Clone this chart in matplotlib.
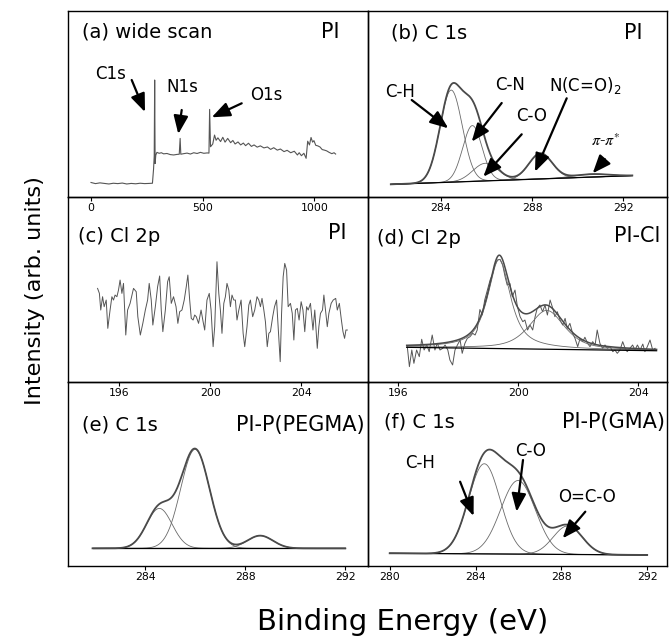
import numpy as np
import matplotlib
matplotlib.use('Agg')
import matplotlib.pyplot as plt

plt.rcParams['font.family'] = ['DejaVu Sans']

# ---------------- data ----------------
# (a) wide scan, PI
wide_be = [0, 20, 40, 60, 80, 100, 120, 140, 160, 180, 200, 220, 240, 260, 275, 280, 283, 285, 287, 290,
           295, 305, 315, 325, 340, 355, 370, 385, 395, 399, 402, 415, 430, 445, 460, 475, 490, 505, 520, 528,
           531, 535, 545, 553, 560, 568, 580, 590, 600, 612, 625, 635, 645, 658, 670, 682, 692, 705, 718, 730,
           744, 758, 774, 790, 804, 818, 834, 848, 864, 878, 894, 910, 924, 932, 942, 953, 963, 970, 978, 985,
           992, 998, 1006, 1015, 1025, 1035, 1045, 1055, 1066, 1078, 1088, 1095]
wide_int = [7.8, 7.2, 7.6, 7.3, 7.0, 7.4, 7.2, 7.5, 7.0, 7.3, 7.1, 7.4, 7.2, 7.3, 7.4, 15.0, 22.0, 62.9, 18.0, 22.5,
            24.0, 23.5, 23.8, 23.2, 23.4, 22.8, 22.6, 22.9, 23.0, 31.5, 23.0, 23.3, 23.6, 23.1, 23.8, 23.4, 24.0, 23.5, 23.7, 23.6,
            47.1, 27.0, 28.5, 33.3, 30.5, 31.8, 29.8, 32.1, 29.5, 31.5, 29.2, 30.4, 28.5, 29.6, 28.0, 29.0, 27.6, 28.9, 27.2, 28.0,
            26.8, 27.5, 26.4, 26.9, 25.6, 26.5, 25.2, 25.8, 24.4, 25.1, 23.8, 24.6, 22.6, 23.8, 22.2, 23.5, 20.8, 30.0, 28.0, 32.0,
            29.5, 30.3, 27.8, 27.5, 26.9, 25.5, 25.2, 24.8, 24.0, 23.3, 23.8, 23.1]

# (b) C 1s, PI : fitted components (centre eV, height, FWHM eV)
b_centers = [284.45, 285.38, 285.95, 288.37, 290.6]
b_heights = [49.5, 30.0, 9.5, 13.8, 1.6]
b_fwhm = [1.15, 1.0, 1.3, 1.2, 1.8]
b_range = [281.8, 292.4]
b_bg = [6.8, 11.5]

# (c) Cl 2p, PI : raw spectrum
c_be = [195.05, 195.13, 195.19, 195.27, 195.34, 195.43, 195.50, 195.60, 195.68, 195.75, 195.82, 195.90, 195.97,
        196.04, 196.12, 196.19, 196.29, 196.37, 196.48, 196.63, 196.75, 196.82, 196.93, 197.04, 197.15, 197.25,
        197.32, 197.41, 197.48, 197.59, 197.69, 197.78, 197.85, 197.92, 198.03, 198.13, 198.20, 198.29, 198.39,
        198.50, 198.58, 198.66, 198.76, 198.86, 198.95, 199.02, 199.10, 199.17, 199.25, 199.32, 199.39, 199.49,
        199.60, 199.69, 199.76, 199.86, 199.96, 200.04, 200.13, 200.20, 200.30, 200.38, 200.45, 200.52, 200.60,
        200.67, 200.74, 200.82, 200.89, 200.96, 201.04, 201.11, 201.18, 201.26, 201.36, 201.45, 201.52, 201.62,
        201.70, 201.77, 201.87, 201.96, 202.06, 202.14, 202.21, 202.28, 202.36, 202.43, 202.51, 202.58, 202.65,
        202.75, 202.83, 202.92, 202.99, 203.08, 203.14, 203.21, 203.28, 203.36, 203.43, 203.53, 203.61, 203.68,
        203.75, 203.83, 203.91, 204.00, 204.08, 204.16, 204.24, 204.31, 204.41, 204.52, 204.60, 204.71, 204.78,
        204.85, 204.94, 205.00, 205.07, 205.15, 205.22, 205.32, 205.41, 205.52, 205.59, 205.68, 205.77, 205.84,
        205.91, 205.97, 206.03]
c_int = [50.6, 47.9, 38.9, 46.1, 40.7, 44.3, 29.0, 38.9, 46.1, 44.3, 47.0, 46.1, 49.7,
         55.1, 47.9, 53.3, 25.4, 38.9, 42.5, 50.6, 48.8, 35.3, 25.4, 31.7, 38.9, 44.3,
         53.3, 44.3, 30.8, 40.7, 51.5, 57.3, 38.9, 27.2, 38.9, 54.2, 56.9, 42.5, 46.1,
         40.7, 31.7, 38.0, 38.9, 44.3, 51.5, 57.8, 44.3, 34.4, 33.5, 36.2, 35.3, 31.7,
         38.9, 32.6, 28.1, 44.3, 47.9, 38.9, 19.1, 29.9, 65.0, 47.9, 38.9, 26.3, 42.5,
         46.1, 53.3, 49.7, 40.7, 47.0, 44.3, 44.3, 33.5, 38.9, 44.3, 26.3, 19.1, 29.9,
         41.6, 44.3, 35.3, 38.9, 46.1, 44.3, 40.7, 45.2, 38.9, 32.6, 19.1, 26.3, 27.2,
         35.3, 40.7, 44.3, 29.9, 11.0, 37.1, 56.9, 64.1, 60.5, 40.7, 42.5, 37.1, 22.7,
         38.9, 39.8, 33.5, 43.4, 38.9, 27.2, 40.7, 38.9, 42.5, 28.1, 38.9, 18.2, 29.9,
         37.1, 38.9, 47.0, 38.9, 29.9, 37.1, 42.5, 44.3, 45.2, 38.9, 42.5, 33.5, 27.2,
         23.6, 28.1, 28.1]

# (d) Cl 2p, PI-Cl : raw spectrum and fitted doublet
d_be = [196.30, 196.37, 196.45, 196.52, 196.61, 196.70, 196.78, 196.86, 196.95, 197.03, 197.13, 197.22, 197.30,
        197.39, 197.48, 197.56, 197.65, 197.72, 197.81, 197.89, 197.97, 198.06, 198.13, 198.22, 198.30, 198.39,
        198.48, 198.56, 198.63, 198.72, 198.80, 198.88, 198.97, 199.06, 199.15, 199.22, 199.30, 199.39, 199.48,
        199.56, 199.63, 199.72, 199.80, 199.89, 199.97, 200.06, 200.15, 200.22, 200.31, 200.39, 200.48, 200.56,
        200.63, 200.72, 200.81, 200.89, 200.97, 201.06, 201.15, 201.22, 201.30, 201.39, 201.48, 201.56, 201.63,
        201.72, 201.81, 201.89, 201.98, 202.06, 202.15, 202.22, 202.31, 202.39, 202.48, 202.56, 202.63, 202.72,
        202.81, 202.89, 202.97, 203.06, 203.15, 203.22, 203.30, 203.39, 203.48, 203.56, 203.63, 203.72, 203.81,
        203.89, 203.97, 204.06, 204.15, 204.22, 204.30, 204.39, 204.48, 204.56]
d_int = [19.1, 8.3, 17.3, 10.1, 17.3, 13.7, 23.1, 17.3, 20.0, 16.4, 25.4, 17.3, 20.9,
         17.3, 18.2, 20.0, 17.3, 11.9, 9.2, 17.3, 20.0, 22.7, 15.5, 20.9, 23.6, 24.5,
         26.3, 25.4, 28.1, 39.2, 36.2, 44.3, 49.7, 55.1, 58.7, 63.2, 65.9, 66.3, 63.2,
         56.9, 52.4, 53.3, 46.1, 49.7, 40.7, 35.3, 32.6, 33.5, 28.1, 30.8, 28.1, 35.3,
         39.8, 41.6, 38.0, 41.6, 36.2, 44.3, 39.8, 35.3, 38.0, 33.5, 30.8, 34.4, 29.0,
         31.7, 26.3, 23.6, 19.1, 23.6, 21.8, 24.2, 20.9, 19.1, 21.8, 20.0, 28.1, 20.9,
         18.2, 20.0, 18.2, 19.1, 16.4, 17.3, 15.5, 17.3, 21.8, 18.2, 16.4, 18.2, 20.0,
         17.3, 20.0, 17.3, 20.5, 16.4, 19.1, 22.7, 17.3, 18.2]
d_centers = [199.36, 200.95]
d_heights = [48.2, 21.0]
d_fwhm = [0.9, 1.4]
d_lorentz = [0.8, 0.6]
d_range = [196.28, 204.61]
d_bg = [18.75, 16.9]

# (e) C 1s, PI-P(PEGMA)
e_centers = [284.57, 286.0, 288.6]
e_heights = [21.7, 53.8, 6.9]
e_fwhm = [1.2, 1.35, 1.2]
e_range = [281.9, 292.0]
e_bg = [9.6, 9.6]

# (f) C 1s, PI-P(GMA)
f_centers = [284.41, 285.98, 288.3]
f_heights = [49.0, 40.0, 15.5]
f_fwhm = [1.73, 1.9, 1.6]
f_range = [280.0, 292.0]
f_bg = [6.9, 6.0]

# ---------------- helpers ----------------
def gauss(x, c, h, w):
    s = w / 2.3548
    return h * np.exp(-(x - c) ** 2 / (2 * s * s))

def pvoigt(x, c, h, w, eta):
    lor = 1.0 / (1.0 + ((x - c) / (w / 2)) ** 2)
    return h * (eta * lor + (1 - eta) * np.exp(-(x - c) ** 2 / (2 * (w / 2.3548) ** 2)))

W, H = 669, 636
fig = plt.figure(figsize=(W / 100, H / 100), dpi=100)

colL, colR = 68, 368
right_edge = 666.5
rows = [(11, 197), (197, 382), (382, 566)]

def make_ax(col, row, xlim, ticks):
    x0 = colL if col == 0 else colR
    x1 = colR if col == 0 else right_edge
    t, b = rows[row]
    ax = fig.add_axes([x0 / W, 1 - b / H, (x1 - x0) / W, (b - t) / H])
    ax.set_facecolor('none')
    ax.set_xlim(*xlim)
    ax.set_ylim(0, 100)
    ax.set_xticks(ticks)
    ax.set_yticks([])
    ax.tick_params(axis='x', direction='out', length=3, width=0.8, labelsize=7.8, pad=1.5)
    for sp in ax.spines.values():
        sp.set_linewidth(1.0)
        sp.set_color('black')
    return ax

LBL = 14
RLBL = 15

def labels(ax, left, right, lx, ly, rx, ry):
    ax.text(lx, ly, left, transform=ax.transAxes, ha='left', va='center', fontsize=LBL)
    ax.text(rx, ry, right, transform=ax.transAxes, ha='right', va='center', fontsize=RLBL)

def arrow(ax, start, tip):
    ax.annotate('', xy=(tip[0], H - tip[1]), xytext=(start[0], H - start[1]),
                xycoords='figure pixels', textcoords='figure pixels',
                arrowprops=dict(arrowstyle='-|>,head_length=1.0,head_width=0.4', mutation_scale=11,
                                lw=1.6, color='black', shrinkA=0, shrinkB=0))

def note(ax, txt, pos, size=12, **kw):
    fig.text(pos[0] / W, 1 - pos[1] / H, txt, ha='center', va='center', fontsize=size, **kw)

comp_col = '#6a6a6a'
env_col = '#4a4a4a'

def fitted(ax, rng, bg, centers, heights, fwhm, shape=None):
    x = np.linspace(rng[0], rng[1], 600)
    base = np.interp(x, rng, bg)
    total = base.copy()
    for i, (c, h, w) in enumerate(zip(centers, heights, fwhm)):
        if shape is None:
            comp = gauss(x, c, h, w)
        else:
            comp = pvoigt(x, c, h, w, shape[i])
        total += comp
        ax.plot(x, base + comp, color=comp_col, lw=0.6)
    ax.plot(rng, bg, color='black', lw=0.9)
    return x, total

# (a)
ax = make_ax(0, 0, (-103, 1240), [0, 500, 1000])
ax.plot(wide_be, wide_int, color='#555555', lw=0.8)
labels(ax, '(a) wide scan', 'PI', 0.046, 0.889, 0.906, 0.889)
note(ax, 'C1s', (111, 74))
arrow(ax, (131.7, 80), (145, 112))
note(ax, 'N1s', (182, 87.5))
arrow(ax, (181.7, 110), (178.3, 134))
note(ax, 'O1s', (266.5, 95))
arrow(ax, (241.7, 103.3), (211.7, 117.3))

# (b)
ax = make_ax(1, 0, (280.8, 293.9), [284, 288, 292])
x, tot = fitted(ax, b_range, b_bg, b_centers, b_heights, b_fwhm)
ax.plot(x, tot, color=env_col, lw=1.3)
labels(ax, '(b) C 1s', 'PI', 0.076, 0.884, 0.92, 0.884)
note(ax, 'C-H', (400, 91.7))
arrow(ax, (411.7, 100), (448.3, 128.3))
note(ax, 'C-N', (510, 85))
arrow(ax, (501.7, 103), (471.7, 141.7))
note(ax, 'C-O', (531.7, 115.8))
arrow(ax, (521.7, 134.3), (483.3, 176.7))
note(ax, 'N(C=O)$_2$', (585, 86))
arrow(ax, (566.7, 98.3), (535, 171.7))
fig.text(606 / W, 1 - 141 / H, r'$\pi$-$\pi^{*}$', ha='center', va='center', fontsize=11.5,
         math_fontfamily='stix', family='DejaVu Serif')
arrow(ax, (605, 159.3), (592.7, 173.3))

# (c)
ax = make_ax(0, 1, (193.75, 206.94), [196, 200, 204])
ax.plot(c_be, c_int, color='#555555', lw=0.7)
labels(ax, '(c) Cl 2p', 'PI', 0.034, 0.784, 0.93, 0.805)

# (d)
ax = make_ax(1, 1, (194.99, 204.94), [196, 200, 204])
ax.plot(d_be, d_int, color='#555555', lw=0.7)
x, tot = fitted(ax, d_range, d_bg, d_centers, d_heights, d_fwhm, d_lorentz)
ax.plot(x, tot, color=env_col, lw=1.1)
labels(ax, '(d) Cl 2p', 'PI-Cl', 0.029, 0.773, 0.978, 0.79)

# (e)
ax = make_ax(0, 2, (280.92, 292.91), [284, 288, 292])
x, tot = fitted(ax, e_range, e_bg, e_centers, e_heights, e_fwhm)
ax.plot(x, tot, color=env_col, lw=1.3)
labels(ax, '(e) C 1s', 'PI-P(PEGMA)', 0.046, 0.768, 0.988, 0.768)

# (f)
ax = make_ax(1, 2, (278.99, 292.9), [280, 284, 288, 292])
x, tot = fitted(ax, f_range, f_bg, f_centers, f_heights, f_fwhm)
ax.plot(x, tot, color=env_col, lw=1.3)
labels(ax, '(f) C 1s', 'PI-P(GMA)', 0.054, 0.78, 0.995, 0.78)
note(ax, 'C-H', (420.5, 462.5))
arrow(ax, (460.1, 481.7), (473.6, 516))
note(ax, 'C-O', (530.3, 450.8))
arrow(ax, (523.0, 460), (516.6, 511.7))
note(ax, 'O=C-O', (586.8, 497.5))
arrow(ax, (585.3, 511.7), (562.7, 538.3))

fig.text(35 / W, 1 - 291 / H, 'Intensity (arb. units)', rotation=90, ha='center', va='center', fontsize=16.2)
fig.text(403 / W, 6 / H, 'Binding Energy (eV)', ha='center', va='baseline', fontsize=21)

fig.savefig('out.png', dpi=100)
